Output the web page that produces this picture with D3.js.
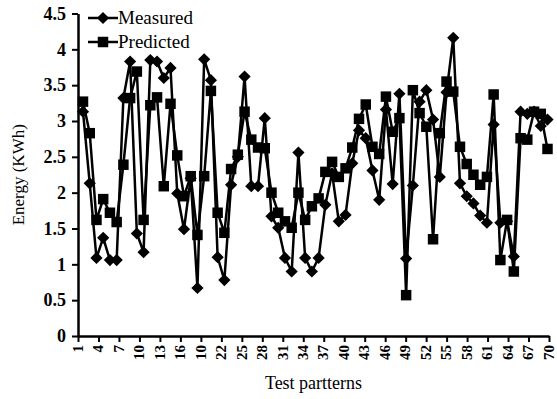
<!DOCTYPE html>
<html>
<head>
<meta charset="utf-8">
<script src="https://cdn.jsdelivr.net/npm/d3@7"></script>
<style>
  body { margin: 0; background: #fff; }
  svg { display: block; }
  text { font-family: "Liberation Serif", "Times New Roman", serif; fill: #000; }
</style>
</head>
<body>
<div id="chart"></div>
<script>
// test pattern numbers 1..70
const patterns = d3.range(1, 71);

const measured = [
  3.13, 2.13, 1.09, 1.37, 1.06, 1.06, 3.32, 3.83, 1.43, 1.17,
  3.85, 3.83, 3.60, 3.74, 1.99, 1.49, 2.20, 0.67, 3.86, 3.57,
  1.10, 0.78, 2.11, 2.50, 3.62, 2.09, 2.09, 3.04, 1.67, 1.51,
  1.09, 0.90, 2.56, 1.09, 0.90, 1.09, 1.83, 2.27, 1.60, 1.69,
  2.41, 2.87, 2.76, 2.31, 1.90, 3.16, 2.12, 3.38, 1.08, 2.10,
  3.27, 3.43, 3.02, 2.22, 3.40, 4.16, 2.13, 1.95, 1.85, 1.68,
  1.58, 2.95, 1.58, 1.60, 1.11, 3.13, 3.10, 3.13, 2.93, 3.02
];

const predicted = [
  3.27, 2.83, 1.62, 1.91, 1.72, 1.59, 2.39, 3.32, 3.69, 1.62,
  3.22, 3.33, 2.09, 3.24, 2.52, 1.95, 2.23, 1.41, 2.23, 3.42,
  1.72, 1.44, 2.33, 2.53, 3.13, 2.74, 2.63, 2.62, 2.00, 1.72,
  1.60, 1.51, 2.00, 1.62, 1.81, 1.92, 2.29, 2.43, 2.22, 2.34,
  2.63, 3.03, 3.23, 2.64, 2.54, 3.34, 2.85, 3.04, 0.57, 3.43,
  3.11, 2.92, 1.35, 2.83, 3.55, 3.41, 2.64, 2.40, 2.25, 2.11,
  2.22, 3.37, 1.06, 1.62, 0.90, 2.76, 2.74, 3.13, 3.10, 2.61
];

const xTickValues = d3.range(1, 71, 3);
const xTickLabels = ["1","4","7","10","13","16","10","22","25","28","31","34",
                     "37","40","43","46","49","52","55","58","61","64","67","70"];
const yTickValues = [0, 0.5, 1, 1.5, 2, 2.5, 3, 3.5, 4, 4.5];
const yTickLabels = ["0","0.5","1","1.5","2","2.5","3","3.5","4","4.5"];

const seriesNames = ["Measured", "Predicted"];

const width = 557, height = 399;
const axisLeftX = 78, axisBottomY = 336, plotTop = 13.5, axisRightX = 549;

const svg = d3.select("#chart").append("svg")
  .attr("width", width)
  .attr("height", height);

// scales
const xAxisScale = d3.scaleLinear().domain([1, 70]).range([axisLeftX, axisRightX]);
const x = d3.scaleLinear().domain([1, 70]).range([83, 547.5]);
const y = d3.scaleLinear().domain([0, 4.5]).range([axisBottomY, plotTop]);

// x axis
const gx = svg.append("g")
  .attr("transform", "translate(0," + axisBottomY + ")")
  .call(d3.axisBottom(xAxisScale)
    .tickValues(xTickValues)
    .tickFormat((d, i) => xTickLabels[i])
    .tickSizeInner(6)
    .tickSizeOuter(0)
    .tickPadding(3));
gx.select(".domain").attr("stroke-width", 2.5);
gx.selectAll(".tick line").attr("stroke-width", 2);
gx.selectAll(".tick text")
  .attr("font-size", 15)
  .attr("font-weight", "bold")
  .attr("transform", "rotate(-90)")
  .attr("text-anchor", "end")
  .attr("x", -9)
  .attr("y", -1)
  .attr("dy", "0.35em");

// y axis
const gy = svg.append("g")
  .attr("transform", "translate(" + axisLeftX + ",0)")
  .call(d3.axisLeft(y)
    .tickValues(yTickValues)
    .tickFormat((d, i) => yTickLabels[i])
    .tickSizeInner(6)
    .tickSizeOuter(0)
    .tickPadding(6));
gy.select(".domain").attr("stroke-width", 2.5);
gy.selectAll(".tick line").attr("stroke-width", 2);
gy.selectAll(".tick text")
  .attr("font-size", 18)
  .attr("font-weight", "bold");

// axis titles
svg.append("text")
  .attr("transform", "translate(24," + ((axisBottomY + plotTop) / 2) + ") rotate(-90)")
  .attr("text-anchor", "middle")
  .attr("font-size", 17)
  .text("Energy (KWh)");

svg.append("text")
  .attr("x", (axisLeftX + axisRightX) / 2)
  .attr("y", 389)
  .attr("text-anchor", "middle")
  .attr("font-size", 18)
  .text("Test partterns");

// lines
const line = d3.line()
  .x((d, i) => x(patterns[i]))
  .y(d => y(d));

const diamond = d3.symbol().type(d3.symbolDiamond2).size(95);
const square = d3.symbol().type(d3.symbolSquare).size(110);

function drawSeries(values, sym) {
  const g = svg.append("g");
  g.append("path")
    .datum(values)
    .attr("fill", "none")
    .attr("stroke", "#000")
    .attr("stroke-width", 2.5)
    .attr("d", line);
  g.selectAll("path.mark")
    .data(values)
    .enter()
    .append("path")
    .attr("class", "mark")
    .attr("d", sym)
    .attr("fill", "#000")
    .attr("transform", (d, i) => "translate(" + x(patterns[i]) + "," + y(d) + ")");
}

drawSeries(measured, diamond);
drawSeries(predicted, square);

// legend
const legend = svg.append("g").attr("transform", "translate(88,0)");
const legendItems = [
  { name: seriesNames[0], sym: diamond, y: 18 },
  { name: seriesNames[1], sym: square, y: 42 }
];
legendItems.forEach(item => {
  legend.append("line")
    .attr("x1", 0).attr("x2", 30)
    .attr("y1", item.y).attr("y2", item.y)
    .attr("stroke", "#000")
    .attr("stroke-width", 2.5);
  legend.append("path")
    .attr("d", item.sym)
    .attr("fill", "#000")
    .attr("transform", "translate(15," + item.y + ")");
  legend.append("text")
    .attr("x", 30)
    .attr("y", item.y)
    .attr("dy", "0.33em")
    .attr("font-size", 19)
    .text(item.name);
});
</script>
</body>
</html>
